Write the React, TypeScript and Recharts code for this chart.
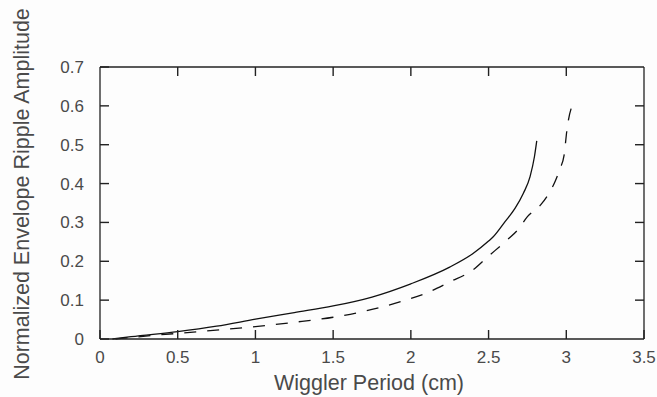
import React from "react"
import { LineChart, Line, XAxis, YAxis, Label } from "recharts"

const xTicks = [0, 0.5, 1, 1.5, 2, 2.5, 3, 3.5]
const yTicks = [0, 0.1, 0.2, 0.3, 0.4, 0.5, 0.6, 0.7]

// solid curve
const solidX = [0.08, 0.2, 0.5, 0.75, 1.0, 1.25, 1.5, 1.75, 2.0, 2.25, 2.4, 2.5, 2.53, 2.606, 2.67, 2.724, 2.767, 2.795, 2.81]
const solidY = [0, 0.006, 0.019, 0.033, 0.051, 0.068, 0.085, 0.108, 0.142, 0.185, 0.22, 0.252, 0.263, 0.302, 0.336, 0.375, 0.418, 0.469, 0.51]

// dashed curve
const dashX = [0.1, 0.365, 0.64, 1.0, 1.25, 1.5, 1.75, 1.95, 2.1, 2.25, 2.4, 2.49, 2.62, 2.69, 2.75, 2.835, 2.89, 2.93, 2.96, 2.986, 3.003, 3.014, 3.035]
const dashY = [0, 0.01, 0.019, 0.032, 0.043, 0.056, 0.076, 0.098, 0.118, 0.147, 0.178, 0.21, 0.255, 0.282, 0.315, 0.345, 0.376, 0.407, 0.439, 0.473, 0.534, 0.564, 0.598]

const solidData = solidX.map((x, i) => ({ x, y: solidY[i] }))
const dashData = dashX.map((x, i) => ({ x, y: dashY[i] }))

const font = "'Liberation Sans', Arial, sans-serif"
const textColor = "#4a4a4a"
const axisColor = "#222"
const TICK = 9
const TW = 1.4

// inward tick marks, drawn as thin rects next to the label
const BottomTick = (props: any) => {
	const x = Number(props.x)
	const y = Number(props.y)
	const base = y - 21
	return (
		<g>
			<rect x={x - TW / 2} y={base - TICK} width={TW} height={TICK} fill={axisColor} />
			<text x={x} y={y + 3} textAnchor="middle" fontSize={17} fill={textColor} fontFamily={font}>
				{props.payload.value}
			</text>
		</g>
	)
}

const LeftTick = (props: any) => {
	const x = Number(props.x)
	const y = Number(props.y)
	const base = x + 16
	return (
		<g>
			<rect x={base} y={y - TW / 2} width={TICK} height={TW} fill={axisColor} />
			<text x={x} y={y + 6} textAnchor="end" fontSize={17} fill={textColor} fontFamily={font}>
				{props.payload.value}
			</text>
		</g>
	)
}

const TopTick = (props: any) => {
	const x = Number(props.x)
	const y = Number(props.y)
	return <rect x={x - TW / 2} y={y} width={TW} height={TICK} fill={axisColor} />
}

const RightTick = (props: any) => {
	const x = Number(props.x)
	const y = Number(props.y)
	return <rect x={x - TICK} y={y - TW / 2} width={TICK} height={TW} fill={axisColor} />
}

export default function App() {
	return (
		<div style={{ position: "absolute", left: 0, top: 0, background: "#fdfdfd" }}>
			<LineChart
				width={657}
				height={397}
				margin={{ top: 66, right: 12, bottom: 18, left: 40 }}
			>
				<XAxis
					xAxisId="b"
					type="number"
					dataKey="x"
					domain={[0, 3.5]}
					ticks={xTicks}
					height={40}
					stroke={axisColor}
					strokeWidth={1.3}
					tickSize={0}
					tickLine={false}
					tickMargin={21}
					tick={<BottomTick />}
				>
					<Label
						content={() => (
							<text
								x={369}
								y={390}
								textAnchor="middle"
								fontSize={21.5}
								fill={textColor}
								fontFamily={font}
							>
								Wiggler Period (cm)
							</text>
						)}
					/>
				</XAxis>
				<XAxis
					xAxisId="t"
					orientation="top"
					type="number"
					dataKey="x"
					domain={[0, 3.5]}
					ticks={xTicks.slice(1, -1)}
					height={1}
					stroke={axisColor}
					strokeWidth={1.3}
					tickSize={0}
					tickLine={false}
					tickMargin={0}
					tick={<TopTick />}
				/>
				<YAxis
					yAxisId="l"
					type="number"
					domain={[0, 0.7]}
					ticks={yTicks}
					width={60}
					stroke={axisColor}
					strokeWidth={1.3}
					tickSize={0}
					tickLine={false}
					tickMargin={16}
					tick={<LeftTick />}
				>
					<Label
						content={() => (
							<text
								x={22}
								y={194}
								transform="rotate(-90 22 194)"
								textAnchor="middle"
								dominantBaseline="central"
								fontSize={21.5}
								fill={textColor}
								fontFamily={font}
							>
								Normalized Envelope Ripple Amplitude
							</text>
						)}
					/>
				</YAxis>
				<YAxis
					yAxisId="r"
					orientation="right"
					type="number"
					domain={[0, 0.7]}
					ticks={yTicks.slice(1, -1)}
					width={1}
					stroke={axisColor}
					strokeWidth={1.3}
					tickSize={0}
					tickLine={false}
					tickMargin={0}
					tick={<RightTick />}
				/>
				<Line
					xAxisId="b"
					yAxisId="l"
					data={solidData}
					dataKey="y"
					type="monotone"
					stroke="#111"
					strokeWidth={1.3}
					dot={false}
					isAnimationActive={false}
				/>
				<Line
					xAxisId="t"
					yAxisId="r"
					data={dashData}
					dataKey="y"
					type="monotone"
					stroke="#111"
					strokeWidth={1.3}
					strokeDasharray="12 11"
					dot={false}
					isAnimationActive={false}
				/>
			</LineChart>
		</div>
	)
}
